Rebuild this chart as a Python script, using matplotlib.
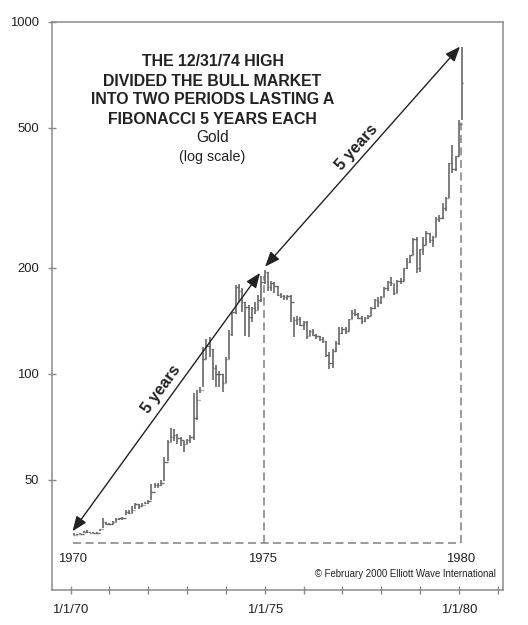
import numpy as np
import matplotlib
matplotlib.use('Agg')
import matplotlib.pyplot as plt

plt.rcParams['font.family'] = ['Liberation Sans', 'DejaVu Sans']
plt.rcParams['lines.scale_dashes'] = False

# Monthly gold bars, Jan 1970 .. Jan 1980 (high, low, close)
highs = [
    35.2, 35.0, 35.3, 35.7, 36.0, 35.6, 35.5, 35.5, 36.3, 39.0, 37.8, 37.6,   # 1970
    38.1, 38.9, 38.9, 39.2, 41.0, 40.9, 42.0, 43.0, 42.6, 42.9, 43.2, 43.9,   # 1971
    48.5, 49.0, 48.8, 50.0, 58.0, 65.0, 70.0, 69.5, 67.5, 66.0, 64.5, 65.2,   # 1972
    67.0, 88.0, 90.0, 92.0, 119.0, 126.0, 127.0, 118.0, 106.0, 102.0, 100.0, 112.0,  # 1973
    133.0, 150.0, 179.0, 180.0, 175.0, 160.0, 157.0, 155.0, 160.0, 167.0, 190.0, 197.5,  # 1974
    195.0, 184.0, 182.0, 178.0, 170.0, 168.0, 167.0, 167.0, 145.0, 146.0, 145.0, 141.0,  # 1975
    141.0, 133.0, 134.0, 130.0, 128.0, 127.0, 124.0, 115.0, 118.0, 124.0, 136.0, 136.0,  # 1976
    136.0, 143.0, 152.0, 153.0, 149.0, 146.0, 145.0, 147.0, 155.0, 163.0, 165.0, 166.0,  # 1977
    176.0, 184.0, 189.0, 180.0, 185.0, 187.0, 200.0, 213.0, 218.0, 243.0, 245.0, 226.0,  # 1978
    245.0, 255.0, 252.0, 246.0, 280.0, 282.0, 305.0, 318.0, 397.0, 447.0, 417.0, 527.0,  # 1979
    850.0,                                                                     # 1980
]
lows = [
    34.9, 34.8, 35.0, 35.2, 35.4, 35.2, 35.2, 35.2, 35.7, 36.5, 37.1, 37.2,
    37.4, 37.9, 38.3, 38.4, 39.6, 39.9, 40.1, 41.3, 41.3, 42.0, 42.6, 42.8,
    43.8, 47.5, 47.5, 48.0, 49.5, 56.5, 64.0, 64.5, 63.0, 62.5, 60.0, 63.0,
    63.5, 65.0, 74.0, 88.0, 92.0, 110.0, 112.0, 96.0, 92.0, 92.0, 89.0, 94.0,
    110.0, 128.0, 148.0, 160.0, 150.0, 128.0, 127.0, 140.0, 148.0, 152.0, 160.0, 180.0,
    172.0, 172.0, 170.0, 166.0, 164.0, 162.0, 162.0, 140.0, 127.0, 138.0, 137.0, 133.0,
    126.0, 128.0, 128.0, 126.0, 124.0, 122.0, 112.0, 103.5, 104.0, 115.0, 121.0, 130.0,
    130.0, 132.0, 143.0, 146.0, 143.0, 139.0, 140.0, 143.0, 146.0, 153.0, 155.0, 158.0,
    165.0, 172.0, 178.0, 168.0, 170.0, 180.0, 183.0, 198.0, 207.0, 217.0, 193.0, 195.0,
    218.0, 233.0, 235.0, 230.0, 245.0, 270.0, 275.0, 290.0, 316.0, 372.0, 376.0, 415.0,
    527.0,
]
closes = [
    34.9, 35.0, 35.1, 35.6, 35.5, 35.4, 35.3, 35.4, 36.2, 37.8, 37.4, 37.4,
    37.9, 38.7, 38.9, 39.0, 40.5, 40.1, 41.0, 42.7, 42.0, 42.5, 42.9, 43.5,
    46.0, 48.3, 48.3, 49.0, 56.0, 64.0, 66.0, 67.0, 65.5, 64.9, 63.0, 64.9,
    66.0, 75.0, 84.0, 90.0, 110.0, 120.0, 118.0, 104.0, 100.0, 100.0, 94.0, 110.0,
    130.0, 150.0, 177.0, 172.0, 160.0, 155.0, 145.0, 154.0, 152.0, 162.0, 182.0, 195.0,
    176.0, 181.0, 178.0, 167.0, 166.0, 165.0, 166.0, 160.0, 142.0, 143.0, 138.0, 140.0,
    128.0, 132.0, 129.0, 128.0, 126.0, 124.0, 113.0, 107.0, 116.0, 122.0, 131.0, 134.0,
    132.0, 143.0, 149.0, 148.0, 144.0, 141.0, 144.0, 146.0, 154.0, 162.0, 160.0, 165.0,
    175.0, 182.0, 181.0, 170.0, 184.0, 183.0, 200.0, 208.0, 217.0, 242.0, 200.0, 226.0,
    233.0, 251.0, 240.0, 245.0, 275.0, 278.0, 296.0, 316.0, 397.0, 382.0, 415.0, 512.0,
    670.0,
]

start_year = 1970
y_ticks = [50, 100, 200, 500, 1000]
y_tick_labels = ['50', '100', '200', '500', '1000']
x_ticks = list(range(1970, 1982))
x_tick_labels = ['1/1/70', '', '', '', '', '1/1/75', '', '', '', '', '1/1/80', '']
inner_years = [1970, 1975, 1980]

title_lines = ['THE 12/31/74 HIGH', 'DIVIDED THE BULL MARKET',
               'INTO TWO PERIODS LASTING A', 'FIBONACCI 5 YEARS EACH']

n = len(closes)
xs = start_year + (np.arange(n) + 1) / 12.0
opens = [closes[0]] + closes[:-1]

W, H = 528, 625
fig = plt.figure(figsize=(W / 100, H / 100), dpi=100)
ax = fig.add_axes([52 / W, 1 - 590 / H, (503 - 52) / W, (590 - 22) / H])
ax.set_yscale('log')
ax.set_xlim(1969.52, 1981.14)
ax.set_ylim(24.3, 1000)

bar_col = '#606060'
ax.vlines(xs, lows, highs, color=bar_col, lw=1.15, zorder=3)
ax.hlines(opens, xs - 0.035, xs, color=bar_col, lw=1.0, zorder=3)
ax.hlines(closes, xs, xs + 0.035, color=bar_col, lw=1.0, zorder=3)

# dashed reference lines
dash_col = '#808080'
base = 33.0
ax.plot([1970.05, 1980.06], [base, base], color=dash_col, lw=1.1, dashes=(5.8, 3.2), zorder=2)
ax.plot([1974.98, 1974.98], [base, 190], color=dash_col, lw=1.1, dashes=(5.8, 3.2), zorder=2)
ax.plot([1980.06, 1980.06], [base, 526], color=dash_col, lw=1.1, dashes=(5.8, 3.2), zorder=2)

# arrows
arr = dict(arrowstyle='<|-|>,head_length=0.5,head_width=0.2', color='#222222', lw=1.0,
           mutation_scale=18, shrinkA=0, shrinkB=0)
ax.annotate('', xy=(1974.88, 193.6), xytext=(1970.05, 35.7), arrowprops=arr, zorder=4)
ax.annotate('', xy=(1980.03, 851), xytext=(1975.01, 201.7), arrowprops=arr, zorder=4)

ax.text(1972.33, 90.2, '5 years', rotation=54, ha='center', va='center',
        fontsize=11.5, fontweight='bold', color='#222222')
ax.text(1977.38, 441, '5 years', rotation=48.4, ha='center', va='center',
        fontsize=11.5, fontweight='bold', color='#222222')

# inner year labels
for yr, xp in zip(inner_years, [1970.05, 1974.95, 1980.05]):
    ax.text(xp, 29.8, str(yr), ha='center', va='center', fontsize=9.4, color='#222222')

ax.text(1981.14 - (503 - 496) / 38.8, 27.0,
        '\u00a9 February 2000 Elliott Wave International',
        ha='right', va='center', fontsize=6.9, color='#222222')

# title block
tx = 212.5 / W
for i, line in enumerate(title_lines):
    fig.text(tx, 1 - (62 + 19 * i) / H, line, ha='center', va='center',
             fontsize=11.4, fontweight='bold', color='#222222')
fig.text(tx, 1 - 138 / H, 'Gold', ha='center', va='center', fontsize=11.2, color='#222222')
fig.text(tx, 1 - 157 / H, '(log scale)', ha='center', va='center', fontsize=10.3, color='#222222')

# axes styling
ax.set_yticks(y_ticks)
ax.set_yticklabels(y_tick_labels)
ax.yaxis.set_minor_locator(matplotlib.ticker.NullLocator())
ax.set_xticks(x_ticks)
ax.set_xticklabels(x_tick_labels)
ax.xaxis.set_minor_locator(matplotlib.ticker.NullLocator())
spine_col = '#8a8a8a'
for s in ax.spines.values():
    s.set_color(spine_col)
    s.set_linewidth(1.1)
ax.tick_params(axis='y', direction='inout', length=5.8, width=1.0, color=spine_col,
               labelsize=9.4, labelcolor='#222222', pad=6.6)
ax.tick_params(axis='x', direction='inout', length=5.2, width=1.0, color=spine_col,
               labelsize=9.4, labelcolor='#222222', pad=7.2)

fig.savefig('out.png', dpi=100)
